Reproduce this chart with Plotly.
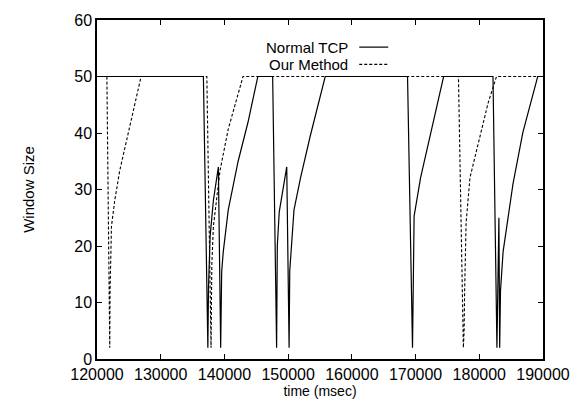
import plotly.graph_objects as go

# Normal TCP (solid)
tcp_x = [120000, 136700, 137400, 137500, 137760, 138270, 139050, 139410, 139570, 139820,
         140600, 142150, 143700, 145240, 147570, 148190, 148300, 148600, 149780, 150150,
         150250, 150920, 151950, 153500, 155820, 168740, 169520, 169670, 169770, 170790,
         172340, 174400, 182150, 182770, 183080, 183200, 183330, 183740, 185290, 186840,
         189170, 190000]
tcp_y = [50, 50, 2, 12.7, 21.8, 28.1, 34, 2, 15.5, 19,
         26.4, 35, 41.9, 50, 50, 2, 20, 26, 34, 2,
         15.6, 26.4, 32.1, 39.6, 50, 50, 2, 16.7, 25.3, 32.1,
         39.6, 50, 50, 2, 25, 2, 12.1, 19, 31, 40.1,
         50, 50]

# Our Method (dashed)
our_x = [120000, 121550, 122000, 122050, 122270, 122790, 123560, 124850, 125880, 126920,
         137240, 137900, 138020, 138270, 139300, 140600, 142920, 176730, 177500, 177620,
         177700, 177930, 178540, 180090, 181380, 182700, 190000]
our_y = [50, 50, 2, 12, 23.5, 28.1, 33.3, 39.6, 44.8, 50,
         50, 2, 16.7, 23.5, 33.3, 40.7, 50, 50, 2, 5,
         12, 24.1, 32.1, 39.6, 45.3, 50, 50]

x_ticks = [120000, 130000, 140000, 150000, 160000, 170000, 180000, 190000]
x_tick_text = ["120000", "130000", "140000", "150000", "160000", "170000", "180000", "190000"]
y_ticks = [0, 10, 20, 30, 40, 50, 60]
series_names = ["Normal TCP", "Our Method"]

FONT = "Liberation Sans, Arial, Helvetica, sans-serif"

fig = go.Figure()
fig.add_trace(go.Scatter(x=tcp_x, y=tcp_y, mode="lines", name=series_names[0],
                         line=dict(color="black", width=1.2)))
fig.add_trace(go.Scatter(x=our_x, y=our_y, mode="lines", name=series_names[1],
                         line=dict(color="black", width=1.1, dash="3px,2px")))

axis_common = dict(showline=True, linecolor="black", linewidth=1.5, mirror="allticks",
                   ticks="inside", ticklen=5, tickcolor="black", tickwidth=1,
                   showgrid=False, zeroline=False,
                   tickfont=dict(family=FONT, size=16, color="black"))

fig.update_layout(
    width=582, height=405,
    margin=dict(l=97, r=33, t=14, b=41),
    paper_bgcolor="white", plot_bgcolor="white",
    showlegend=False,
    font=dict(family=FONT, size=15, color="black"),
    xaxis=dict(range=[120000, 190000], tickvals=x_ticks, ticktext=x_tick_text,
               title=dict(text="time (msec)", font=dict(family=FONT, size=14), standoff=0),
               **axis_common),
    yaxis=dict(range=[0, 60], tickvals=y_ticks,
               title=dict(text="Window Size", font=dict(family=FONT, size=15), standoff=36),
               **axis_common),
)

# custom legend (text on the left, line sample on the right)
leg_y = [0.92, 0.869]
leg_dash = ["solid", "3px,2px"]
for name, yy, dsh in zip(series_names, leg_y, leg_dash):
    fig.add_annotation(x=0.566, y=yy, xref="paper", yref="paper", text=name,
                       showarrow=False, xanchor="right", yanchor="middle",
                       height=15, borderpad=0,
                       font=dict(family=FONT, size=15, color="black"))
    fig.add_shape(type="line", xref="paper", yref="paper", x0=0.588, x1=0.653, y0=yy, y1=yy,
                  line=dict(color="black", width=1.2, dash=dsh))

fig.write_html("out.html")
